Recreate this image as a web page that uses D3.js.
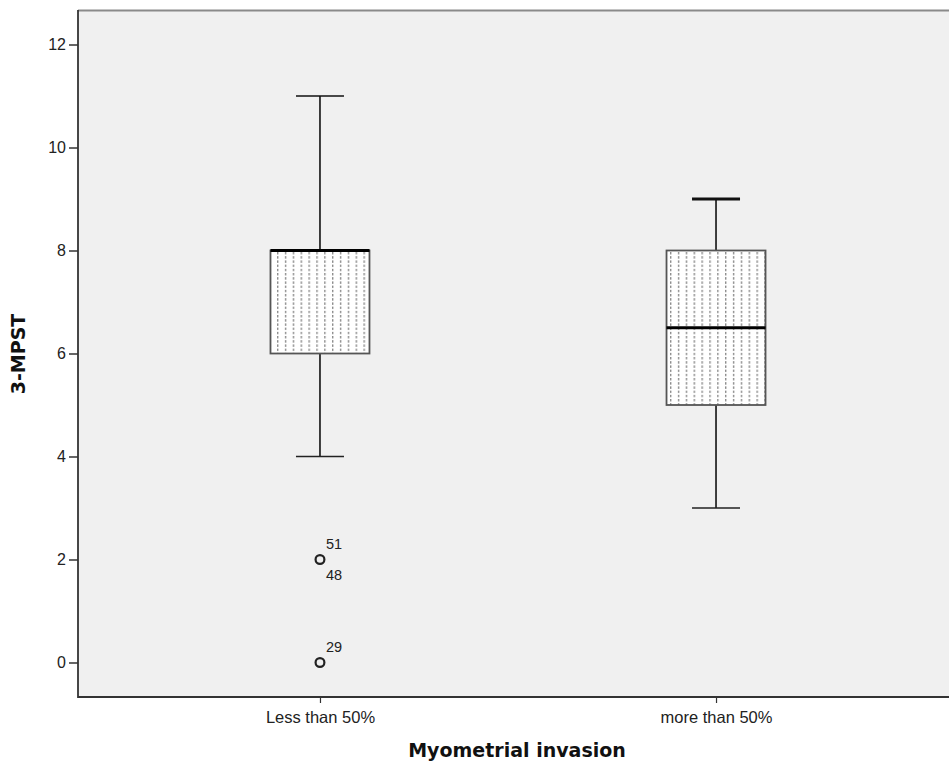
<!DOCTYPE html>
<html><head><meta charset="utf-8">
<script src="https://cdn.jsdelivr.net/npm/d3@7"></script>
<style>html,body{margin:0;padding:0;background:#fff;}svg{display:block;}</style>
</head><body>
<svg id="chart" width="949" height="767"></svg>
<script>
// ---- data ----
const categories = ["Less than 50%", "more than 50%"];
const whiskerLow = [4, 3];
const q1 = [6, 5];
const median = [8, 6.5];
const q3 = [8, 8];
const whiskerHigh = [11, 9];
const outlierGroup = [0, 0, 0];
const outlierValue = [2, 2, 0];
const outlierLabel = ["51", "48", "29"];
const yTicks = [0, 2, 4, 6, 8, 10, 12];
const yTitle = "3-MPST";
const xTitle = "Myometrial invasion";

// ---- layout / style ----
const capStroke = [1.5, 3];
const plot = {left: 78, right: 958, top: 10, bottom: 697};
const svg = d3.select("#chart");

const y = d3.scaleLinear().domain([-0.67, 12.67]).range([plot.bottom, plot.top]);
const x = d3.scalePoint().domain(categories).range([plot.left, plot.right]).padding(0.611);

const defs = svg.append("defs");
const pat = defs.append("pattern").attr("id", "dots")
  .attr("patternUnits", "userSpaceOnUse").attr("width", 7.86).attr("height", 4.2)
  .attr("x", 277).attr("y", 0);
pat.append("rect").attr("width", 7.86).attr("height", 4.2).attr("fill", "#fff");
pat.append("rect").attr("x", 0).attr("y", 0).attr("width", 1.4).attr("height", 2.4).attr("fill", "#8c8c8c");

// plot background
svg.append("rect").attr("x", plot.left).attr("y", plot.top)
  .attr("width", plot.right - plot.left).attr("height", plot.bottom - plot.top)
  .attr("fill", "#f0f0f0");
// top border
svg.append("line").attr("x1", plot.left).attr("x2", plot.right)
  .attr("y1", plot.top + 0.5).attr("y2", plot.top + 0.5)
  .attr("stroke", "#8a8a8a").attr("stroke-width", 2);

// y axis
const yAxis = svg.append("g").attr("transform", `translate(${plot.left},0)`)
  .call(d3.axisLeft(y).tickValues(yTicks).tickSize(9).tickPadding(3).tickSizeOuter(0));
yAxis.select(".domain").remove();
yAxis.selectAll(".tick line").attr("stroke", "#333").attr("stroke-width", 1.5);
yAxis.selectAll(".tick text").attr("font-family", "Liberation Sans, Arial, sans-serif")
  .attr("font-size", 16).attr("fill", "#222");
svg.append("line").attr("x1", plot.left).attr("x2", plot.left)
  .attr("y1", plot.top).attr("y2", plot.bottom + 1)
  .attr("stroke", "#333").attr("stroke-width", 1.8);

// x axis
const xAxis = svg.append("g").attr("transform", `translate(0,${plot.bottom})`)
  .call(d3.axisBottom(x).tickSize(6).tickPadding(8).tickSizeOuter(0));
xAxis.select(".domain").remove();
xAxis.selectAll(".tick line").attr("stroke", "#333").attr("stroke-width", 1.2);
xAxis.selectAll(".tick text").attr("font-family", "Liberation Sans, Arial, sans-serif")
  .attr("font-size", 16.5).attr("fill", "#222");
svg.append("line").attr("x1", plot.left).attr("x2", plot.right)
  .attr("y1", plot.bottom).attr("y2", plot.bottom)
  .attr("stroke", "#333").attr("stroke-width", 1.8);

// boxes
const boxW = 99, capW = 48;
const groups = categories.map((c, i) => ({c, i}));
const g = svg.append("g");
groups.forEach(({c, i}) => {
  const cx = x(c);
  g.append("line").attr("x1", cx).attr("x2", cx).attr("y1", y(whiskerHigh[i])).attr("y2", y(q3[i]))
    .attr("stroke", "#111").attr("stroke-width", 1.6);
  g.append("line").attr("x1", cx).attr("x2", cx).attr("y1", y(q1[i])).attr("y2", y(whiskerLow[i]))
    .attr("stroke", "#111").attr("stroke-width", 1.6);
  g.append("line").attr("x1", cx - capW / 2).attr("x2", cx + capW / 2)
    .attr("y1", y(whiskerHigh[i])).attr("y2", y(whiskerHigh[i]))
    .attr("stroke", "#111").attr("stroke-width", capStroke[i]);
  g.append("line").attr("x1", cx - capW / 2).attr("x2", cx + capW / 2)
    .attr("y1", y(whiskerLow[i])).attr("y2", y(whiskerLow[i]))
    .attr("stroke", "#222").attr("stroke-width", 1.5);
  g.append("rect").attr("x", cx - boxW / 2).attr("y", y(q3[i]))
    .attr("width", boxW).attr("height", y(q1[i]) - y(q3[i]))
    .attr("fill", "url(#dots)").attr("stroke", "#555").attr("stroke-width", 1.8);
  g.append("line").attr("x1", cx - boxW / 2).attr("x2", cx + boxW / 2)
    .attr("y1", y(median[i])).attr("y2", y(median[i]))
    .attr("stroke", "#000").attr("stroke-width", 3);
});

// outliers
const outliers = outlierValue.map((v, k) => ({v, g: outlierGroup[k], label: outlierLabel[k], k}));
const seen = {};
outliers.forEach(o => {
  const cx = x(categories[o.g]), cy = y(o.v);
  const key = o.g + "_" + o.v;
  const n = seen[key] || 0; seen[key] = n + 1;
  if (n === 0) {
    g.append("circle").attr("cx", cx).attr("cy", cy).attr("r", 4.4)
      .attr("fill", "none").attr("stroke", "#222").attr("stroke-width", 2.2);
  }
  g.append("text").attr("x", cx + 6).attr("y", n === 0 ? cy - 10 : cy + 21)
    .attr("font-family", "Liberation Sans, Arial, sans-serif").attr("font-size", 14.5)
    .attr("fill", "#222").text(o.label);
});

// axis titles
svg.append("text").attr("x", 517).attr("y", 757).attr("text-anchor", "middle")
  .attr("font-family", "DejaVu Sans, sans-serif").attr("font-weight", "bold").attr("font-size", 19)
  .attr("fill", "#111").text(xTitle);
svg.append("text").attr("transform", "translate(25,354) rotate(-90)").attr("text-anchor", "middle")
  .attr("font-family", "DejaVu Sans, sans-serif").attr("font-weight", "bold").attr("font-size", 19)
  .attr("fill", "#111").text(yTitle);
</script>
</body></html>
